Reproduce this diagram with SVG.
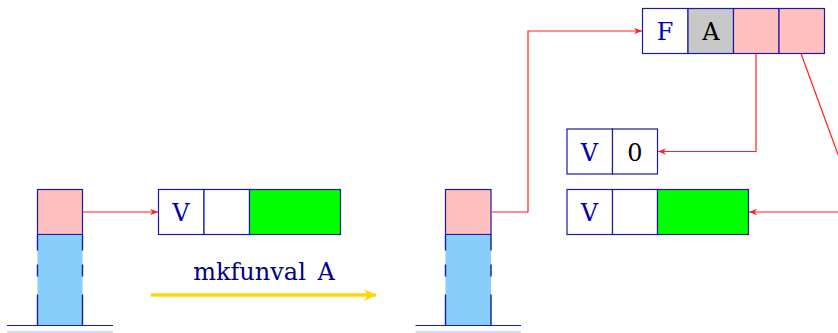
<svg xmlns="http://www.w3.org/2000/svg" width="838" height="333" viewBox="0 0 838 333">
<defs>
<style>
.cell{stroke:#1a1aa6;stroke-width:1.2}
.w{fill:#ffffff}.pk{fill:#ffc0c0}.gr{fill:#00ff00}.gy{fill:#c8c8c8}.bl{fill:#87cefa}
.side{stroke:#1a1aa6;stroke-width:1.4;stroke-dasharray:16 14 12 18 40}
.base{stroke:#1a1aa6;stroke-width:1.2}
.base2{stroke:#b0b0f0;stroke-width:1.2}
.lbl{font-family:"DejaVu Serif","Liberation Serif",serif;font-size:24px;text-anchor:middle}
.bt{fill:#0000b0}.kt{fill:#000000}
.edge{fill:none;stroke:#ff2020;stroke-width:1.2}
</style>
<marker id="ah" viewBox="0 0 10 10" refX="10" refY="5" markerWidth="8" markerHeight="8" orient="auto" markerUnits="userSpaceOnUse">
<path d="M0,1 L10,5 L0,9 L3,5 Z" fill="#ff2020"/>
</marker>
<marker id="ya" viewBox="0 0 10 10" refX="10" refY="5" markerWidth="12" markerHeight="12" orient="auto" markerUnits="userSpaceOnUse">
<path d="M0,0 L10,5 L0,10 L3,5 Z" fill="#ffd700"/>
</marker>
</defs>

<g id="stack-left">
<rect class="cell pk" x="37.5" y="189.5" width="45" height="45"/>
<rect x="37.5" y="234.5" width="45" height="91" fill="#87cefa"/>
<line class="cell" x1="37.5" y1="234.5" x2="82.5" y2="234.5"/>
<line class="side" x1="37.5" y1="234.5" x2="37.5" y2="325.5"/>
<line class="side" x1="82.5" y1="234.5" x2="82.5" y2="325.5"/>
<line class="base" x1="7" y1="325.5" x2="113" y2="325.5"/>
<line class="base2" x1="7" y1="332" x2="113" y2="332"/>
</g>

<g id="vbox-left">
<rect class="cell w" x="158.5" y="189.5" width="45.5" height="45"/>
<rect class="cell w" x="204" y="189.5" width="45.5" height="45"/>
<rect class="cell gr" x="249.5" y="189.5" width="91" height="45"/>
<text class="lbl bt" x="181" y="221">V</text>
</g>

<g id="transition">
<text x="264" y="280" font-family="DejaVu Serif, Liberation Serif, serif" font-size="24" word-spacing="4" fill="#00008b" text-anchor="middle">mkfunval A</text>
<line x1="151" y1="295" x2="376" y2="295" stroke="#ffd700" stroke-width="3.5" marker-end="url(#ya)"/>
</g>

<g id="stack-right">
<rect class="cell pk" x="445.5" y="189.5" width="45.5" height="45"/>
<rect x="445.5" y="234.5" width="45.5" height="91" fill="#87cefa"/>
<line class="cell" x1="445.5" y1="234.5" x2="491" y2="234.5"/>
<line class="side" x1="445.5" y1="234.5" x2="445.5" y2="325.5"/>
<line class="side" x1="491" y1="234.5" x2="491" y2="325.5"/>
<line class="base" x1="415.5" y1="325.5" x2="521" y2="325.5"/>
<line class="base2" x1="415.5" y1="332" x2="521" y2="332"/>
</g>

<g id="fbox">
<rect class="cell w" x="642.5" y="8.5" width="45.5" height="45"/>
<rect class="cell gy" x="688" y="8.5" width="45.5" height="45"/>
<rect class="cell pk" x="733.5" y="8.5" width="45.5" height="45"/>
<rect class="cell pk" x="779" y="8.5" width="45.5" height="45"/>
<text class="lbl bt" x="665" y="40">F</text>
<text class="lbl kt" x="711" y="40">A</text>
</g>

<g id="v0box">
<rect class="cell w" x="567" y="129" width="45.5" height="45"/>
<rect class="cell w" x="612.5" y="129" width="45" height="45"/>
<text class="lbl bt" x="589.5" y="161">V</text>
<text class="lbl kt" x="635" y="161">0</text>
</g>

<g id="vbox-right">
<rect class="cell w" x="567" y="189.5" width="45.5" height="45"/>
<rect class="cell w" x="612.5" y="189.5" width="45" height="45"/>
<rect class="cell gr" x="657.5" y="189.5" width="91" height="45"/>
<text class="lbl bt" x="589.5" y="221">V</text>
</g>

<g id="connectors">
<path class="edge" d="M82.5,212 H158" marker-end="url(#ah)"/>
<path class="edge" d="M491,212 H528 V31 H642" marker-end="url(#ah)"/>
<path class="edge" d="M756,53.5 V151.5 H658" marker-end="url(#ah)"/>
<path class="edge" d="M801,53.5 L840,160"/>
<path class="edge" d="M840,212 H749" marker-end="url(#ah)"/>
</g>
</svg>
